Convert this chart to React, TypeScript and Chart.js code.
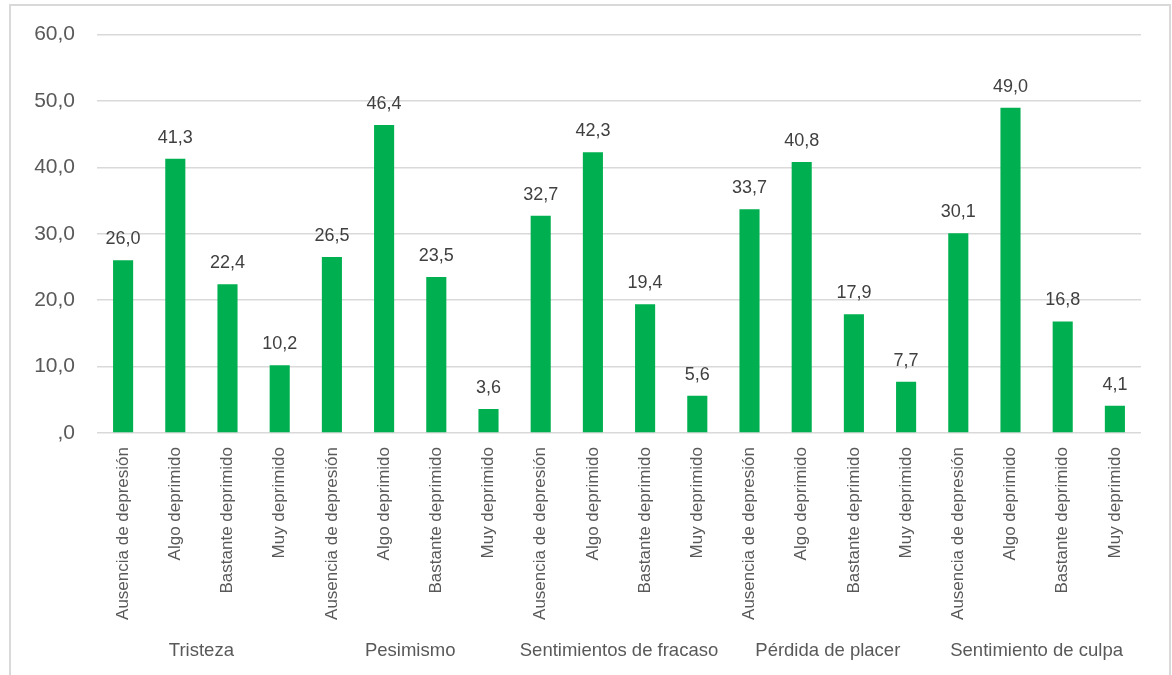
import React, { useEffect, useRef } from "react";
import { Chart, registerables } from "chart.js";

Chart.register(...registerables);

const levels = ["Ausencia de depresión", "Algo deprimido", "Bastante deprimido", "Muy deprimido"];
const groups = ["Tristeza", "Pesimismo", "Sentimientos de fracaso", "Pérdida de placer", "Sentimiento de culpa"];
const tristeza = [26.0, 41.3, 22.4, 10.2];
const pesimismo = [26.5, 46.4, 23.5, 3.6];
const fracaso = [32.7, 42.3, 19.4, 5.6];
const placer = [33.7, 40.8, 17.9, 7.7];
const culpa = [30.1, 49.0, 16.8, 4.1];
const yTicks = [0, 10, 20, 30, 40, 50, 60];

const FONT = "'Liberation Sans', Arial, sans-serif";
const fmt = (v: number) => (v === 0 ? ",0" : v.toFixed(1).replace(".", ","));

export default function App() {
  const ref = useRef<HTMLCanvasElement>(null);
  useEffect(() => {
    const labels = groups.flatMap(() => levels);
    const values = [...tristeza, ...pesimismo, ...fracaso, ...placer, ...culpa];

    const labelPlugin = {
      id: "labels",
      afterDatasetsDraw(chart: any) {
        const ctx = chart.ctx;
        const meta = chart.getDatasetMeta(0);
        ctx.save();
        ctx.font = `18px ${FONT}`;
        ctx.fillStyle = "#404040";
        ctx.textAlign = "center";
        ctx.textBaseline = "middle";
        meta.data.forEach((bar: any, i: number) => {
          ctx.fillText(fmt(values[i]), bar.x, bar.y - 21);
        });
        ctx.restore();
      },
      afterDraw(chart: any) {
        const ctx = chart.ctx;
        const x = chart.scales.x;
        ctx.save();
        ctx.font = `18.5px ${FONT}`;
        ctx.fillStyle = "#595959";
        ctx.textAlign = "center";
        ctx.textBaseline = "middle";
        groups.forEach((g, gi) => {
          const cx = (x.getPixelForValue(gi * 4) + x.getPixelForValue(gi * 4 + 3)) / 2;
          ctx.fillText(g, cx, 651);
        });
        ctx.restore();
      },
    };

    const chart = new Chart(ref.current!, {
      type: "bar",
      data: {
        labels,
        datasets: [
          {
            data: values,
            backgroundColor: "#00B050",
            barPercentage: 0.385,
            categoryPercentage: 1,
          },
        ],
      },
      options: {
        animation: false,
        responsive: false,
        layout: { padding: { left: 0, top: 34, right: 31, bottom: 0 } },
        plugins: { legend: { display: false }, tooltip: { enabled: false } },
        scales: {
          x: {
            grid: { display: false },
            border: { display: false },
            ticks: {
              minRotation: 90,
              maxRotation: 90,
              autoSkip: false,
              padding: 6,
              color: "#595959",
              font: { size: 17, family: FONT },
            },
            afterFit(scale: any) {
              scale.height = 242;
            },
          },
          y: {
            min: 0,
            max: 60,
            afterBuildTicks(scale: any) {
              scale.ticks = yTicks.map((v) => ({ value: v }));
            },
            grid: { color: "#d9d9d9", lineWidth: 1.5, drawTicks: false },
            border: { display: false },
            ticks: {
              padding: 22,
              color: "#595959",
              font: { size: 21, family: FONT },
              callback: (v: any) => fmt(Number(v)),
            },
            afterFit(scale: any) {
              scale.width = 97;
            },
          },
        },
      },
      plugins: [labelPlugin],
    });
    return () => chart.destroy();
  }, []);

  return (
    <div style={{ position: "fixed", left: 0, top: 0, width: 1172, height: 675, background: "#fff", overflow: "hidden" }}>
      <div
        style={{
          position: "absolute",
          left: 9,
          top: 4,
          width: 1162,
          height: 700,
          border: "2px solid #d9d9d9",
          boxSizing: "border-box",
        }}
      />
      <canvas ref={ref} width={1172} height={675} style={{ position: "absolute", left: 0, top: 0 }} />
    </div>
  );
}
